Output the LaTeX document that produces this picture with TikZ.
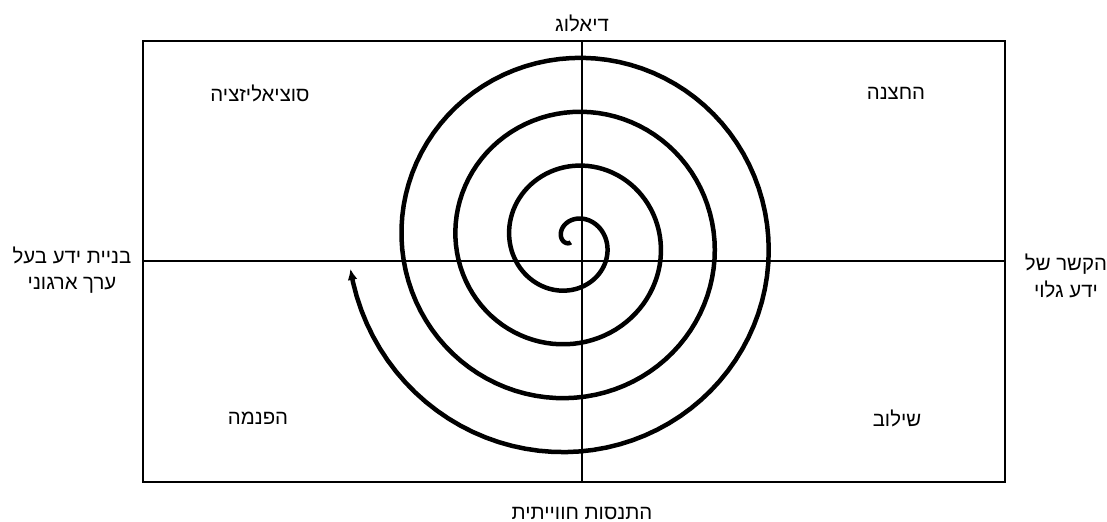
\documentclass[tikz,border=0pt]{standalone}
\usepackage{fontspec}
\newfontfamily\hebfont[Script=Hebrew]{Liberation Sans}
\TeXXeTstate=1
\usetikzlibrary{arrows.meta}

\tikzset{
	heb/.style={font=\hebfont\fontsize{14.5}{19}\selectfont, align=center, inner sep=0pt},
	achse/.style={line width=1.5pt},
	spirale/.style={line width=3.2pt}
}

\begin{document}
\begin{tikzpicture}
			%\draw [lightgray](0,0) grid (28,13);
			\useasboundingbox (0,0) rectangle (27.675,13.05);
			
			% Zeichnet den Rahmen
			\draw[achse] (3.575,1) rectangle (25.125,12.025);
			
			% Zeichnet die beiden Achsen
			\draw[achse] (14.55,1) -- (14.55,12.025);
			\draw[achse] (3.575,6.525) -- (25.125,6.525);
			
			% Zeichnet die Spirale (von innen nach aussen, mit Pfeil am Ende)
			\draw[spirale][-{Latex[length=8pt,width=7pt]}] plot[domain=8:1486, samples=400, variable=\t]
				({14.29 + 1.35*\t/360*cos(233-\t)}, {7.0125 + 1.35*\t/360*sin(233-\t)});
			
			% Beschriftung der Achsen
			\node (dialog) [heb] at (14.55,12.475) {\beginR דיאלוג\endR};
			\node (erfahrung) [heb] at (14.55,0.225) {\beginR התנסות חווייתית\endR};
			\node (wissen) [heb] at (1.8,6.3) {\beginR בניית ידע בעל\endR\\\beginR ערך ארגוני\endR};
			\node (kontext) [heb] at (26.65,6.15) {\beginR הקשר של\endR\\\beginR ידע גלוי\endR};
			
			% Beschriftung der Quadranten
			\node (sozial) [heb] at (6.5,10.725) {\beginR סוציאליזציה\endR};
			\node (extern) [heb] at (22.4,10.725) {\beginR החצנה\endR};
			\node (intern) [heb] at (6.45,2.6) {\beginR הפנמה\endR};
			\node (komb) [heb] at (22.425,2.6) {\beginR שילוב\endR};
		\end{tikzpicture}
\end{document}
